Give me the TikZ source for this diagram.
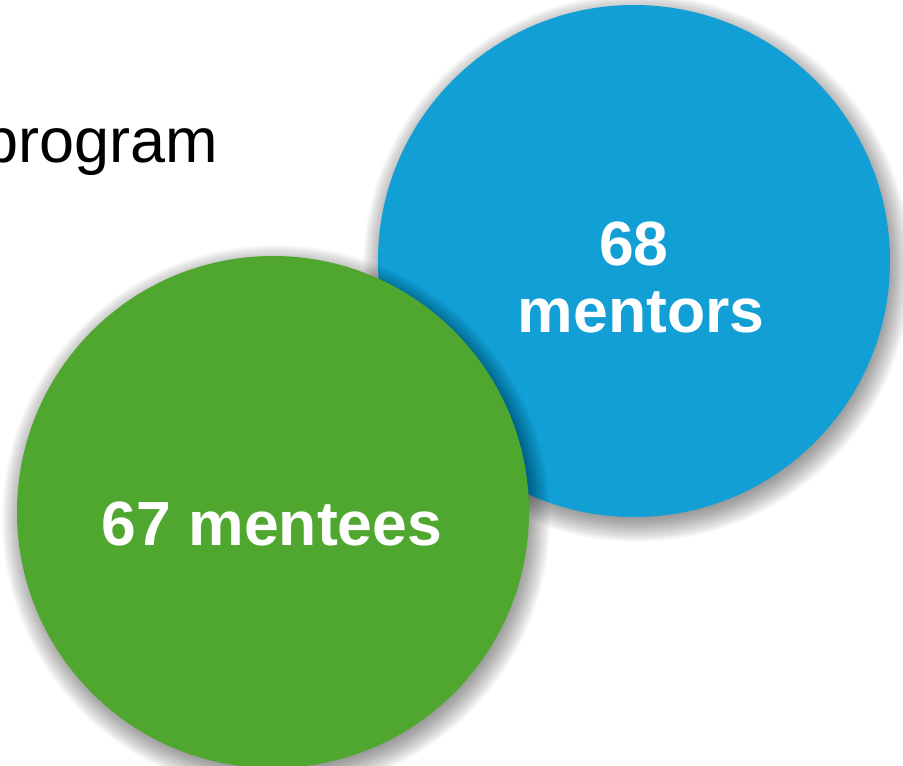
\documentclass[tikz,border=0pt]{standalone}
\usepackage{fontspec}
\setmainfont{Liberation Sans}
\definecolor{mblue}{RGB}{17,159,214}
\definecolor{mgreen}{RGB}{80,167,48}
\tikzset{
  disc/.style={circle, minimum size=512pt, inner sep=0pt, draw=none},
  bigtxt/.style={text=white, font=\fontsize{62.5}{68}\selectfont\bfseries, align=center, inner sep=0pt},
}
\newcommand{\softshadow}[3]{%
  \foreach \i in {0,...,26}{
    \fill[black, opacity=0.018] ({#1+3},{#2+7}) circle ({#3-8+\i});
  }%
}
\begin{document}
\begin{tikzpicture}[x=1pt,y=-1pt]
  \useasboundingbox (0,0) rectangle (903,766);
  \clip (0,0) rectangle (903,766);
  \node[anchor=base east, inner sep=0pt, font=\fontsize{63}{70}\selectfont] (title) at (218,162) {program};
  \softshadow{634}{261}{256}
  \node[disc, fill=mblue] (mentors) at (634,261) {};
  \softshadow{273}{512}{256}
  \node[disc, fill=mgreen] (mentees) at (273,512) {};
  \node[bigtxt, anchor=base] (t68) at (634,265) {68};
  \node[bigtxt, anchor=base] (tmentors) at (641,332) {mentors};
  \node[bigtxt, anchor=base] (tmentees) at (272,545) {67 mentees};
\end{tikzpicture}
\end{document}
